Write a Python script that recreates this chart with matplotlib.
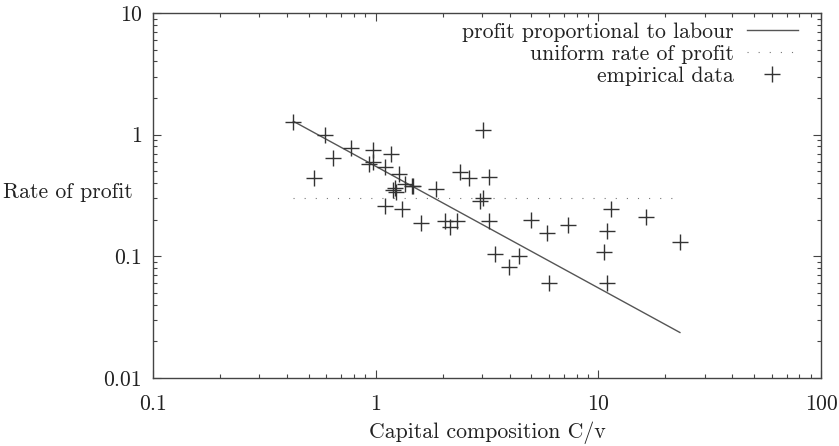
import matplotlib
matplotlib.use('Agg')
import matplotlib.pyplot as plt
import numpy as np
from matplotlib.ticker import FixedLocator, LogLocator, NullFormatter, FixedFormatter

plt.rcParams['font.family'] = ['cmr10', 'DejaVu Serif']
plt.rcParams['mathtext.fontset'] = 'cm'
plt.rcParams['axes.unicode_minus'] = False
plt.rcParams['axes.formatter.use_mathtext'] = True

# ---- data ----
cap_comp = [0.427, 0.591, 0.646, 0.530, 0.774, 0.970, 1.172, 0.933, 0.972, 1.101,
            1.276, 1.199, 1.234, 1.22, 1.354, 1.451, 1.475, 1.866, 1.101, 1.319,
            1.592, 2.048, 2.166, 2.317, 2.403, 2.633, 3.216, 3.022, 3.042, 2.950,
            3.226, 3.433, 3.981, 4.399, 4.966, 5.898, 5.981, 7.282, 11.35, 10.89,
            10.63, 10.89, 16.36, 23.25]
profit_rate = [1.28, 0.985, 0.640, 0.443, 0.773, 0.749, 0.694, 0.569, 0.597, 0.543,
               0.473, 0.351, 0.341, 0.362, 0.394, 0.379, 0.382, 0.355, 0.257, 0.243,
               0.187, 0.197, 0.174, 0.197, 0.489, 0.438, 0.445, 1.093, 0.302, 0.283,
               0.194, 0.104, 0.0823, 0.101, 0.199, 0.155, 0.0601, 0.180, 0.244, 0.160,
               0.109, 0.0608, 0.212, 0.130]
labour_const = 0.55      # profit proportional to labour: rate = k / (C/v)
uniform_rate = 0.30      # uniform rate of profit

x_ticks = [0.1, 1, 10, 100]
x_tick_labels = ['0.1', '1', '10', '100']
y_ticks = [0.01, 0.1, 1, 10]
y_tick_labels = ['0.01', '0.1', '1', '10']

FS = 15.7

# ---- figure ----
fig = plt.figure(figsize=(8.39, 4.46), dpi=100)
ax = fig.add_axes([153/839, 1-378/446, (821-153)/839, (378-13)/446])

xr = np.array([min(cap_comp), max(cap_comp)])
ax.plot(xr, labour_const / xr, color='#555555', lw=1.0,
        label='profit proportional to labour')
ax.plot(xr, [uniform_rate, uniform_rate], color='#777777', lw=0.8,
        linestyle=(0, (1, 9)), label='uniform rate of profit')
ax.plot(cap_comp, profit_rate, linestyle='none', marker='+', markersize=11,
        markeredgewidth=1.0, color='#333333', label='empirical data')

ax.set_xscale('log')
ax.set_yscale('log')
ax.set_xlim(0.1, 100)
ax.set_ylim(0.01, 10)

ax.xaxis.set_major_locator(FixedLocator(x_ticks))
ax.xaxis.set_major_formatter(FixedFormatter(x_tick_labels))
ax.yaxis.set_major_locator(FixedLocator(y_ticks))
ax.yaxis.set_major_formatter(FixedFormatter(y_tick_labels))
ax.xaxis.set_minor_locator(LogLocator(base=10, subs=np.arange(2, 10), numticks=20))
ax.yaxis.set_minor_locator(LogLocator(base=10, subs=np.arange(2, 10), numticks=20))
ax.xaxis.set_minor_formatter(NullFormatter())
ax.yaxis.set_minor_formatter(NullFormatter())

ax.tick_params(which='both', direction='in', top=True, right=True,
               color='#444444', labelsize=FS, labelcolor='#222222')
ax.tick_params(which='major', length=6, width=0.8)
ax.tick_params(which='minor', length=3, width=0.8)
ax.tick_params(axis='x', which='major', pad=12)
ax.tick_params(axis='y', which='major', pad=8)
for s in ax.spines.values():
    s.set_color('#444444')
    s.set_linewidth(1.0)

ax.set_xlabel('Capital composition C/v', fontsize=FS, color='#222222', labelpad=5)
ax.set_ylabel('Rate of profit', fontsize=FS, color='#222222', rotation=0,
              ha='right', va='center')
ax.yaxis.set_label_coords(-0.03, 0.51)

leg = ax.legend(loc='upper right', frameon=False, markerfirst=False,
                alignment='right', fontsize=FS, handlelength=2.34,
                borderaxespad=0.0, borderpad=0.0, labelspacing=0.12,
                handletextpad=0.6, labelcolor='#222222',
                bbox_to_anchor=((798-153)/668, 1 - 9/365))

fig.savefig('out.png', dpi=100)
